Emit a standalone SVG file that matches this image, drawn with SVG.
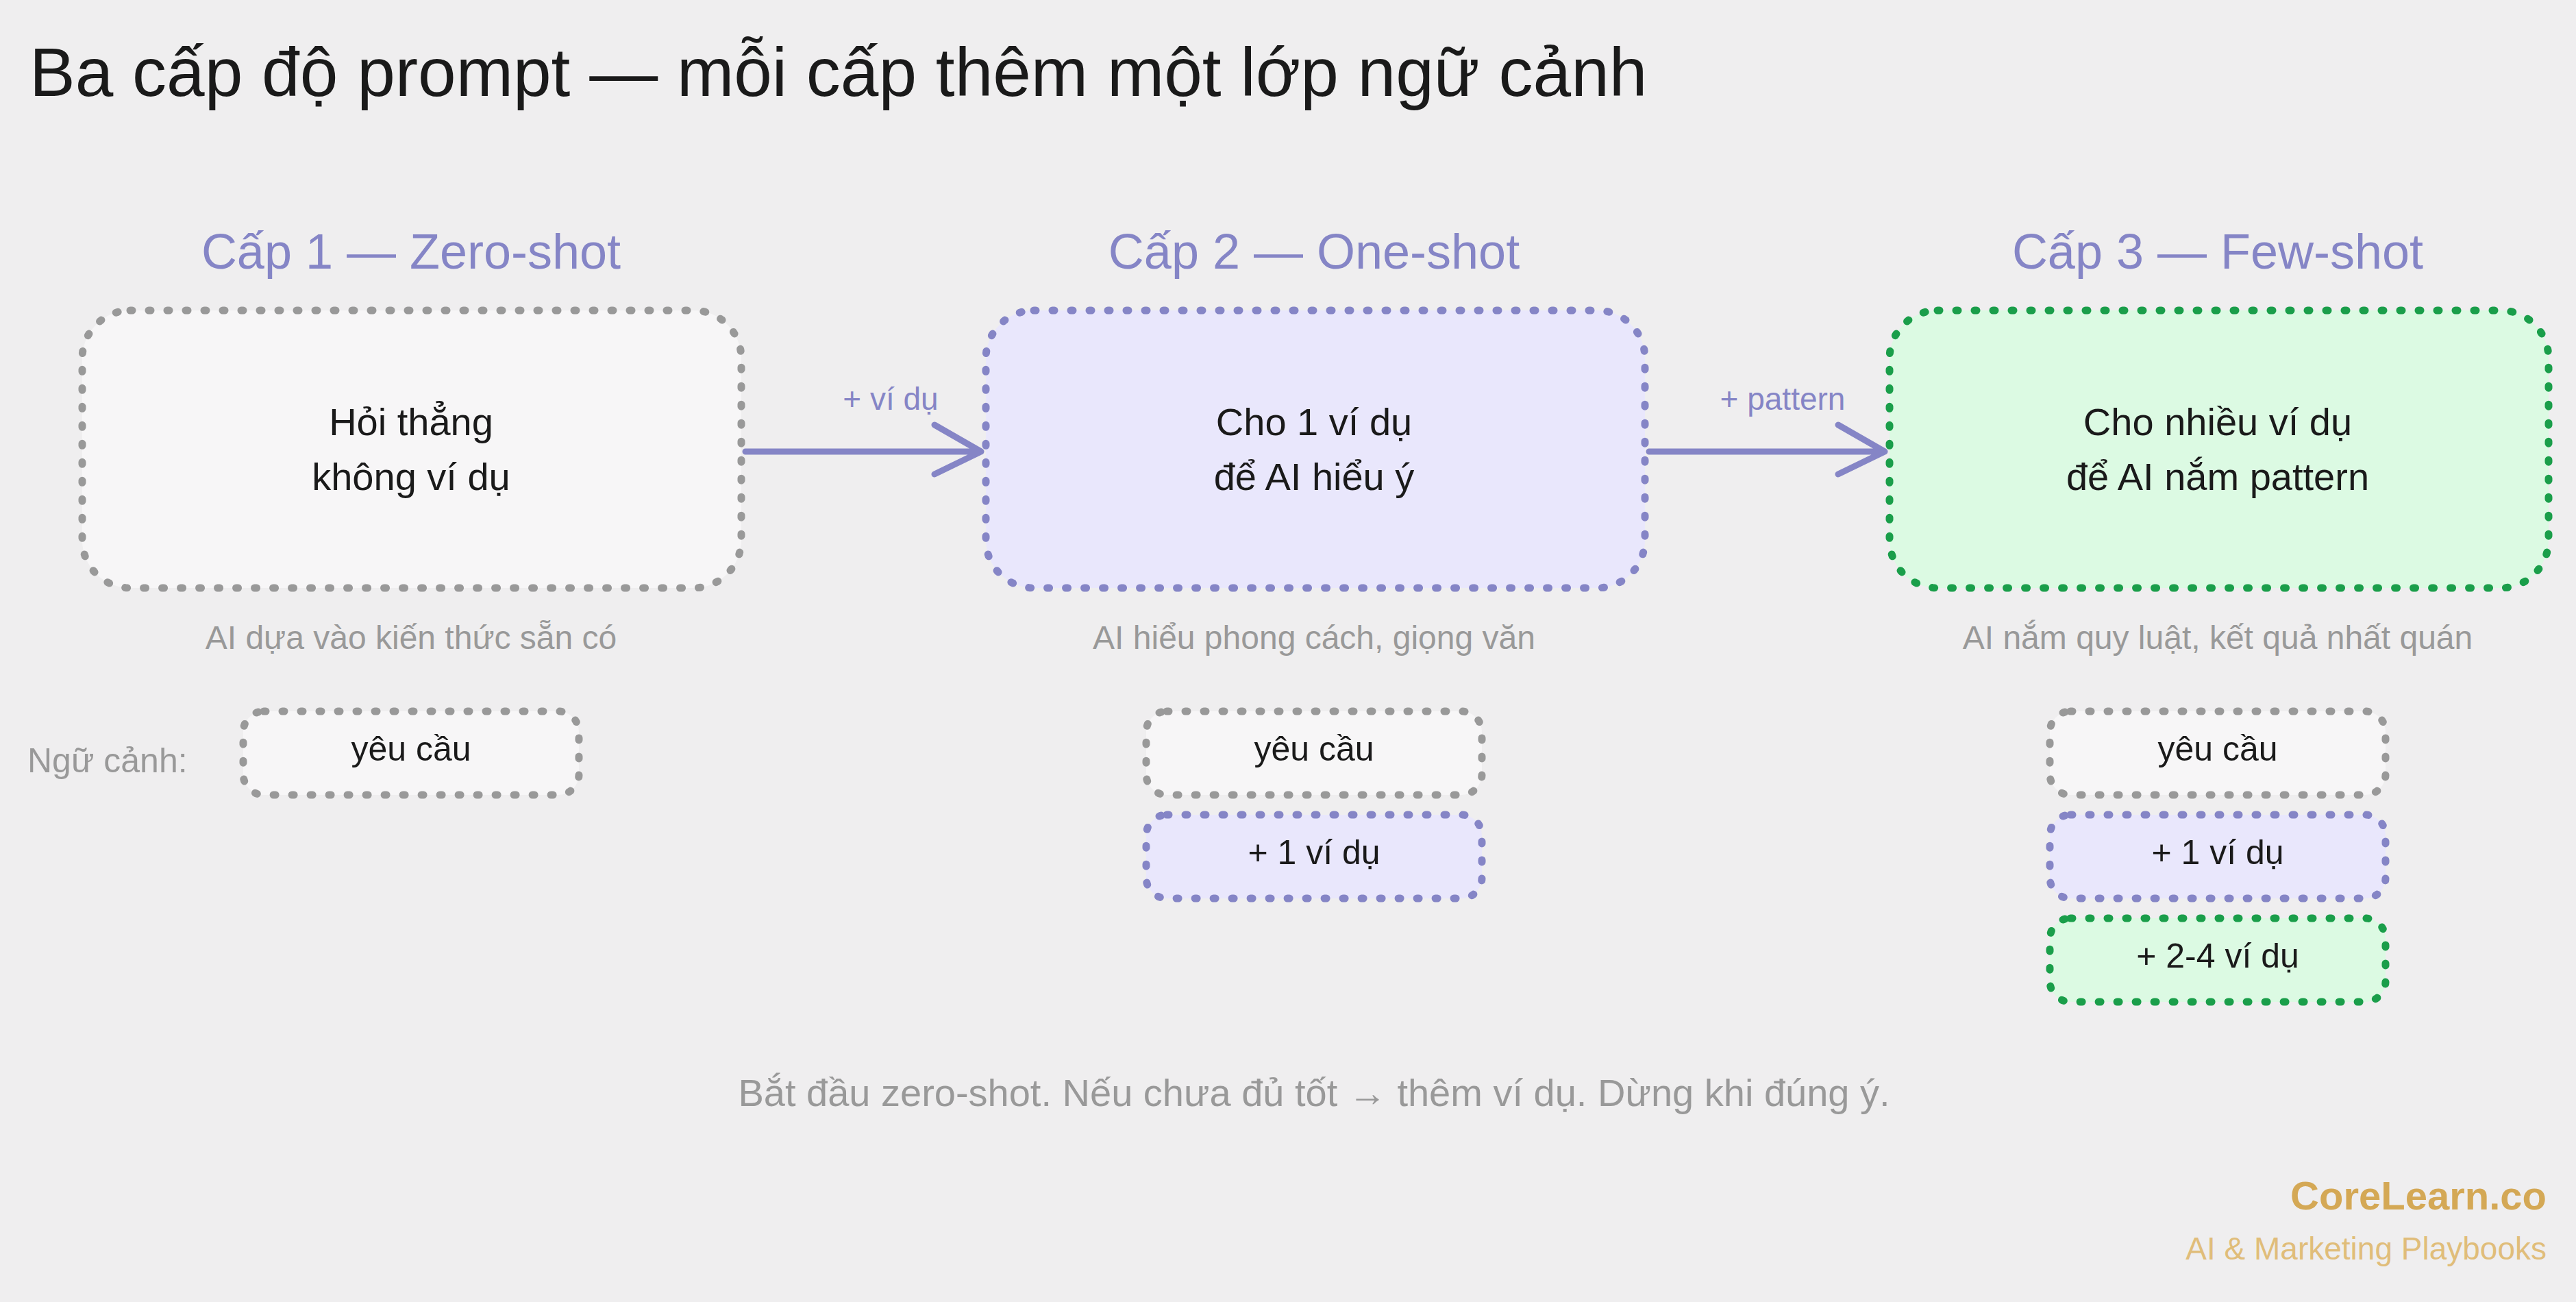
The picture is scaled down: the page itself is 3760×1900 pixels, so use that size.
<svg xmlns="http://www.w3.org/2000/svg" width="3760" height="1900" viewBox="0 0 3760 1900">
<style>
text{font-family:"Liberation Sans",Arial,sans-serif}
.t{font-size:100px;fill:#1a1a1a}
.h{font-size:72px;fill:#8585c6;text-anchor:middle}
.b{font-size:56px;fill:#1a1a1a;text-anchor:middle}
.s{font-size:48px;fill:#999;text-anchor:middle}
.c{font-size:50px;fill:#1a1a1a;text-anchor:middle}
.gr{fill:#f7f6f7;stroke:#999;stroke-width:11;stroke-dasharray:3 24;stroke-linecap:round}
.pu{fill:#e9e7fc;stroke:#8585c6;stroke-width:11;stroke-dasharray:3 24;stroke-linecap:round}
.gn{fill:#dcfae3;stroke:#1a9e4a;stroke-width:11;stroke-dasharray:3 24;stroke-linecap:round}
.ar{fill:none;stroke:#8585c6;stroke-width:9;stroke-linecap:round;stroke-linejoin:round}
.al{font-size:46px;fill:#8585c6;text-anchor:middle}
</style>
<rect width="3760" height="1900" fill="#efeeef"/>
<text class="t" x="43" y="140">Ba cấp độ prompt — mỗi cấp thêm một lớp ngữ cảnh</text>
<g id="level1">
<text class="h" x="600" y="392">Cấp 1 — Zero-shot</text>
<rect class="gr" x="120" y="453" width="962" height="405" rx="70"/>
<text class="b" x="600" y="635">Hỏi thẳng</text>
<text class="b" x="600" y="715">không ví dụ</text>
<text class="s" x="600" y="947">AI dựa vào kiến thức sẵn có</text>
</g>
<g id="level2">
<text class="h" x="1918" y="392">Cấp 2 — One-shot</text>
<rect class="pu" x="1439" y="453" width="962" height="405" rx="70"/>
<text class="b" x="1918" y="635">Cho 1 ví dụ</text>
<text class="b" x="1918" y="715">để AI hiểu ý</text>
<text class="s" x="1918" y="947">AI hiểu phong cách, giọng văn</text>
</g>
<g id="level3">
<text class="h" x="3237" y="392">Cấp 3 — Few-shot</text>
<rect class="gn" x="2758" y="453" width="962" height="405" rx="70"/>
<text class="b" x="3237" y="635">Cho nhiều ví dụ</text>
<text class="b" x="3237" y="715">để AI nắm pattern</text>
<text class="s" x="3237" y="947">AI nắm quy luật, kết quả nhất quán</text>
</g>
<g id="connectors">
<path class="ar" d="M1088 659 L1432 659 M1364 620 L1432 659 L1364 692"/>
<text class="al" x="1300" y="598">+ ví dụ</text>
<path class="ar" d="M2407 659 L2751 659 M2683 620 L2751 659 L2683 692"/>
<text class="al" x="2602" y="598">+ pattern</text>
</g>
<g id="context">
<text x="40" y="1127" style="font-size:50px;fill:#999">Ngữ cảnh:</text>
<rect class="gr" x="355" y="1038" width="490" height="122" rx="30"/>
<text class="c" x="600" y="1110">yêu cầu</text>
<rect class="gr" x="1673" y="1038" width="490" height="122" rx="30"/>
<text class="c" x="1918" y="1110">yêu cầu</text>
<rect class="pu" x="1673" y="1189" width="490" height="122" rx="30"/>
<text class="c" x="1918" y="1261">+ 1 ví dụ</text>
<rect class="gr" x="2992" y="1038" width="490" height="122" rx="30"/>
<text class="c" x="3237" y="1110">yêu cầu</text>
<rect class="pu" x="2992" y="1189" width="490" height="122" rx="30"/>
<text class="c" x="3237" y="1261">+ 1 ví dụ</text>
<rect class="gn" x="2992" y="1340" width="490" height="122" rx="30"/>
<text class="c" x="3237" y="1412">+ 2-4 ví dụ</text>
</g>
<text x="1918" y="1614" style="font-size:56px;fill:#999;text-anchor:middle">Bắt đầu zero-shot. Nếu chưa đủ tốt → thêm ví dụ. Dừng khi đúng ý.</text>
<text x="3717" y="1765" style="font-size:58px;font-weight:bold;fill:#d4a855;text-anchor:end">CoreLearn.co</text>
<text x="3717" y="1838" style="font-size:46px;fill:#e0bd7a;text-anchor:end">AI &amp; Marketing Playbooks</text>
</svg>
